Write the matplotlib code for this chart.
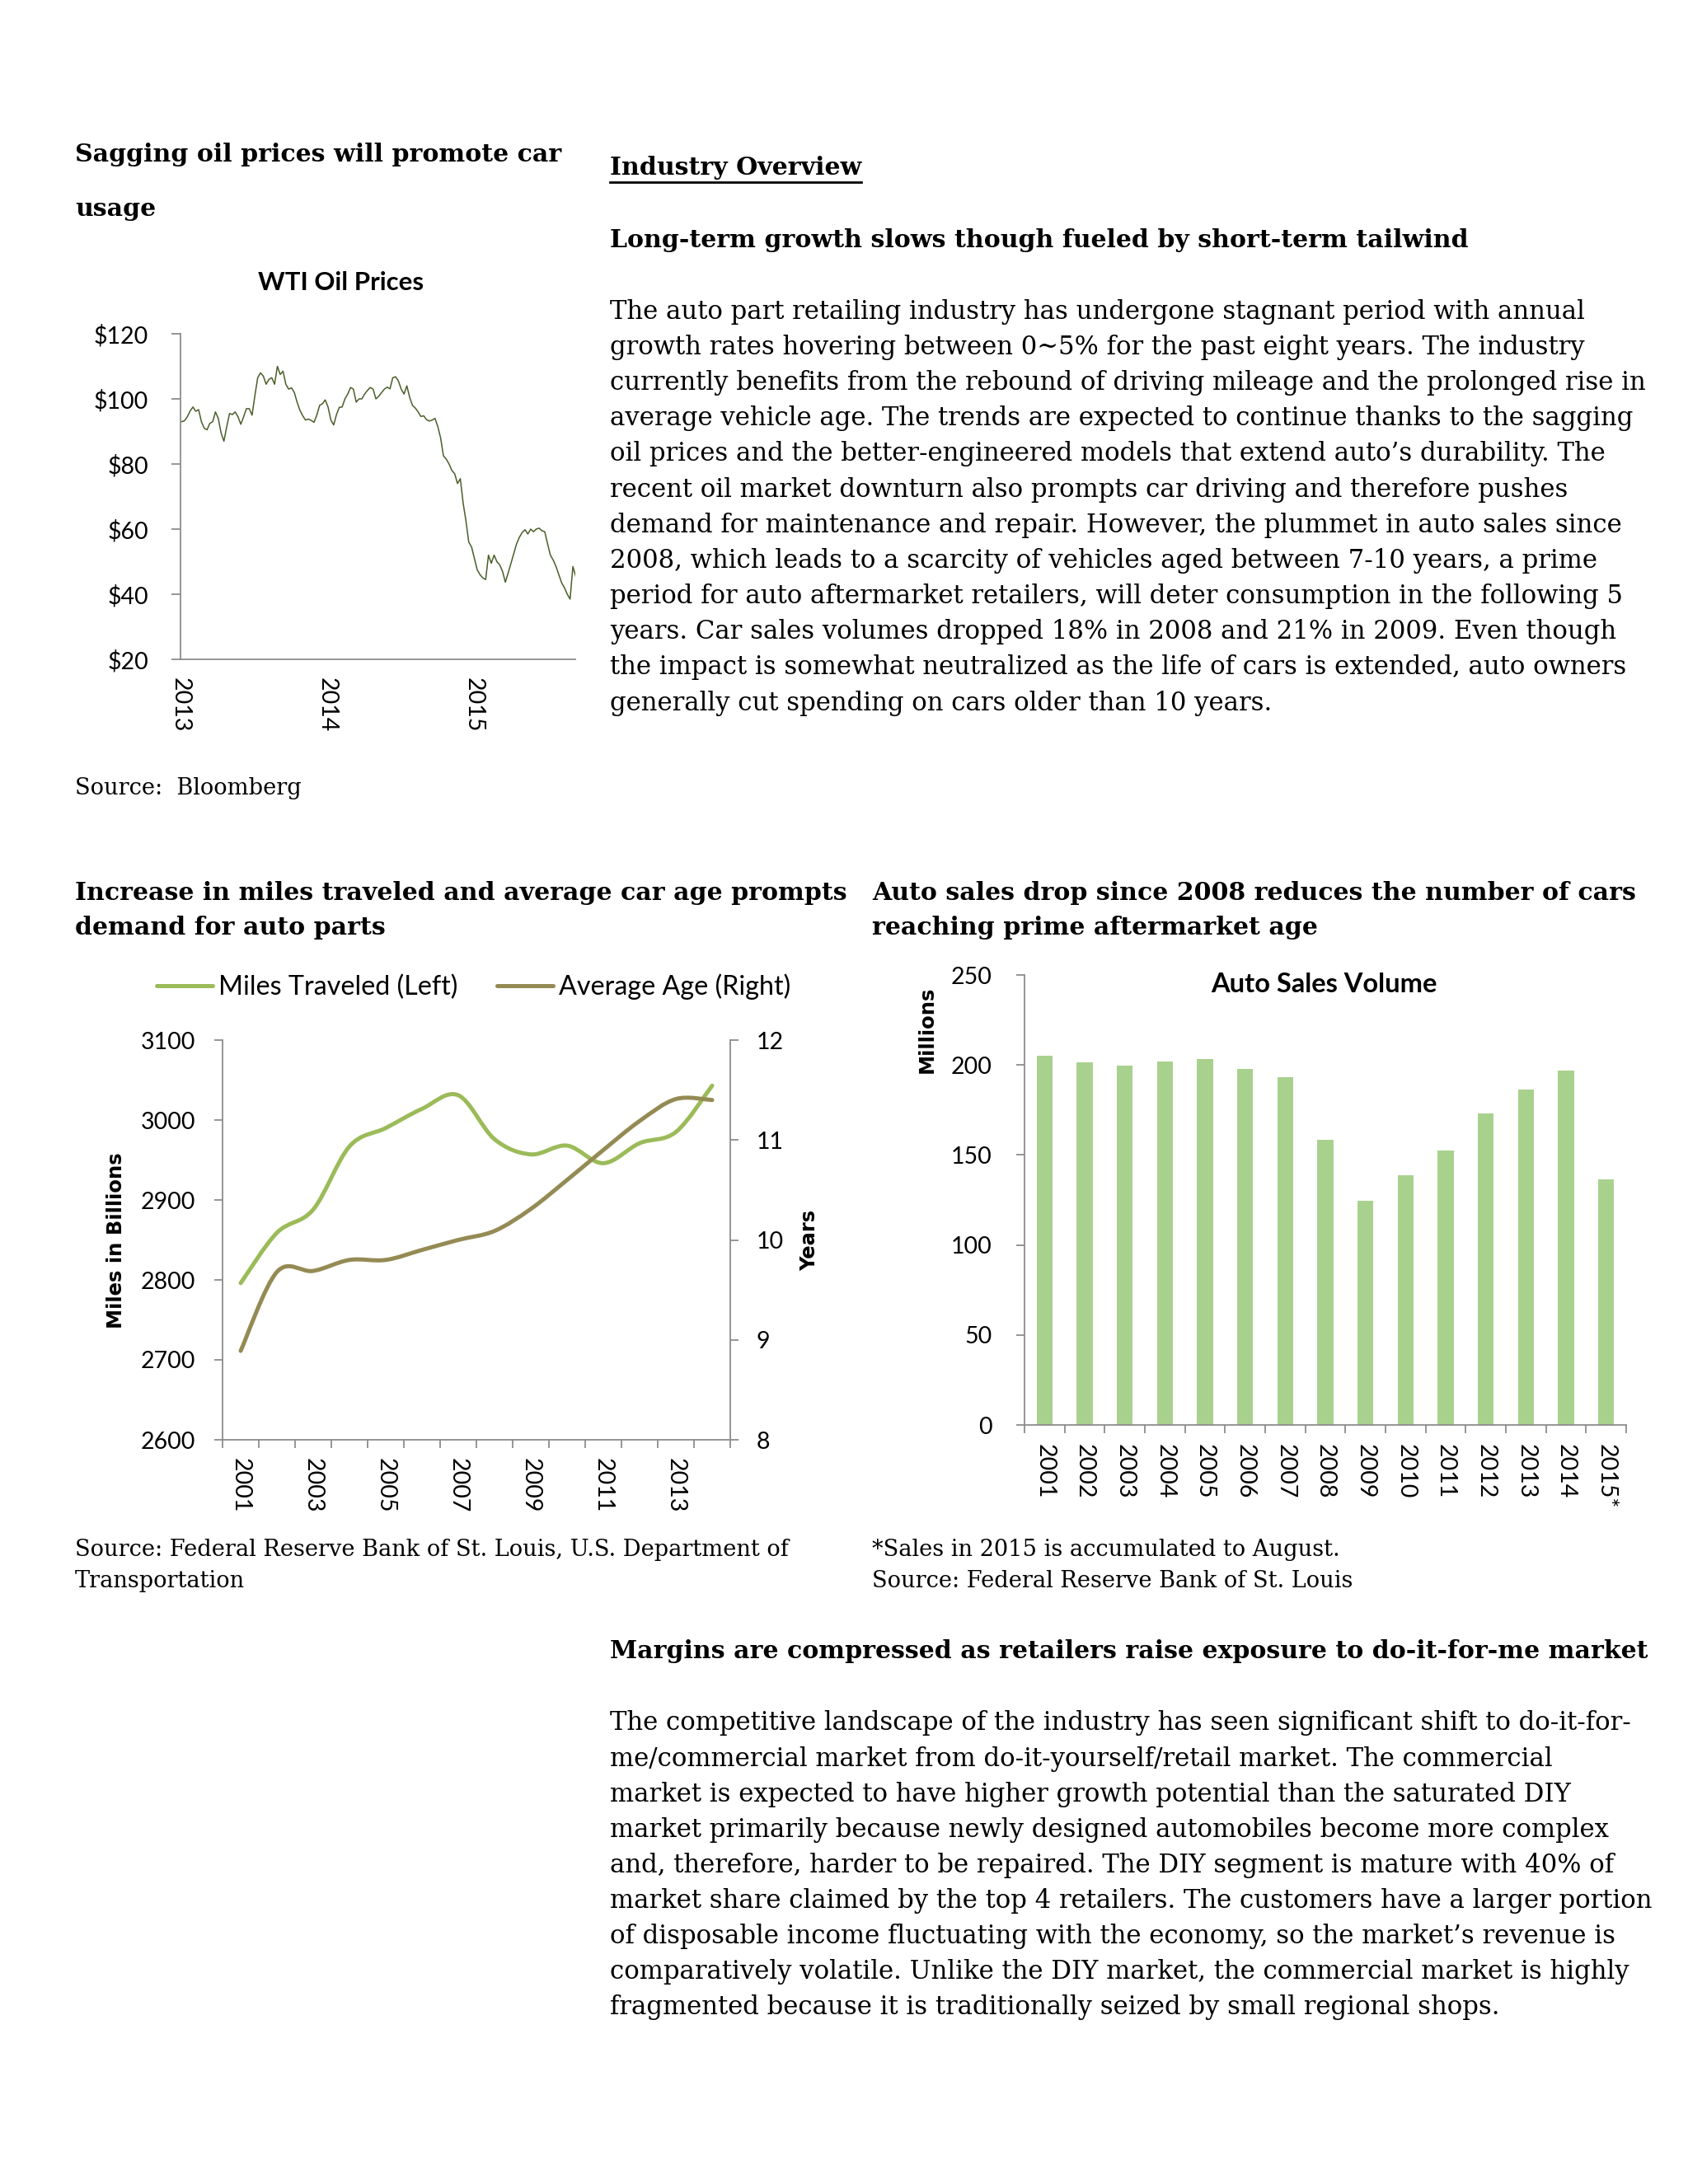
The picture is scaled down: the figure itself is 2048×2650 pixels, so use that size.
import numpy as np
import pandas as pd
import matplotlib
matplotlib.use('Agg')
import matplotlib.pyplot as plt
from matplotlib.path import Path
from matplotlib.patches import PathPatch
from matplotlib.lines import Line2D

# ---- data ----
# WTI weekly closes (Jan 2013 - Sep 2015)
wti_start = '2013-01-04'
wti_prices = [
    93, 93.3, 94.5, 96.3, 97.5, 96.2, 96.7, 93, 91, 90.5,
    92.5, 93, 96, 94, 89.5, 87, 91.5, 95.5, 95.2, 96,
    94.5, 92.2, 94.5, 97, 97, 95, 101, 106.5, 108, 107,
    104.5, 106, 106.5, 104.5, 110, 107.5, 108.5, 104.5, 103, 103.4,
    102, 99, 96.5, 94.8, 93.5, 93.8, 93.4, 92.8, 95, 98,
    98.5, 99.7, 97.5, 93.5, 92, 95.2, 97.4, 97.5, 100, 101.5,
    103.5, 103, 99, 100, 100, 101.5, 102.6, 103.5, 103, 100,
    100.8, 101.9, 103, 103.6, 103.1, 106.5, 106.8, 105.5, 103, 101.5,
    104, 100.5, 98, 97.2, 96, 94.6, 94.8, 93.6, 93.2, 93.5,
    94, 91.5, 88, 82.5, 81.5, 80, 78, 77, 74, 75.5,
    68, 62.5, 56, 54.5, 51, 47.5, 46, 45, 44.5, 52,
    49.5, 52, 50, 49, 47, 43.7, 46.5, 49.5, 52.5, 55.5,
    57.5, 59, 59.8, 58.5, 60, 59.2, 60, 60.3, 59.5, 59.2,
    55.5, 52, 50.5, 48.5, 46, 43.5, 42, 40, 38.5, 48.5,
    45.5, 44,
]
wti_years = ['2013', '2014', '2015']

mv_years = list(range(2001, 2015))
miles = [2796, 2859, 2888, 2967, 2990, 3014, 3031, 2976, 2957, 2968, 2946, 2971, 2985, 3043]
avg_age = [8.89, 9.68, 9.69, 9.80, 9.80, 9.90, 10.0, 10.09, 10.31, 10.60, 10.90, 11.19, 11.41, 11.40]

sales_labels = ['2001', '2002', '2003', '2004', '2005', '2006', '2007', '2008',
                '2009', '2010', '2011', '2012', '2013', '2014', '2015*']
sales = [205.3, 201.6, 199.6, 202.0, 203.3, 198.0, 193.0, 158.2,
         124.7, 138.6, 152.4, 173.0, 186.3, 197.0, 136.5]

para1 = [
    "The auto part retailing industry has undergone stagnant period with annual",
    "growth rates hovering between 0~5% for the past eight years. The industry",
    "currently benefits from the rebound of driving mileage and the prolonged rise in",
    "average vehicle age. The trends are expected to continue thanks to the sagging",
    "oil prices and the better-engineered models that extend auto\u2019s durability. The",
    "recent oil market downturn also prompts car driving and therefore pushes",
    "demand for maintenance and repair. However, the plummet in auto sales since",
    "2008, which leads to a scarcity of vehicles aged between 7-10 years, a prime",
    "period for auto aftermarket retailers, will deter consumption in the following 5",
    "years. Car sales volumes dropped 18% in 2008 and 21% in 2009. Even though",
    "the impact is somewhat neutralized as the life of cars is extended, auto owners",
    "generally cut spending on cars older than 10 years.",
]
para2 = [
    "The competitive landscape of the industry has seen significant shift to do-it-for-",
    "me/commercial market from do-it-yourself/retail market. The commercial",
    "market is expected to have higher growth potential than the saturated DIY",
    "market primarily because newly designed automobiles become more complex",
    "and, therefore, harder to be repaired. The DIY segment is mature with 40% of",
    "market share claimed by the top 4 retailers. The customers have a larger portion",
    "of disposable income fluctuating with the economy, so the market\u2019s revenue is",
    "comparatively volatile. Unlike the DIY market, the commercial market is highly",
    "fragmented because it is traditionally seized by small regional shops.",
]

# ---- page setup ----
W, H = 2048, 2650
fig = plt.figure(figsize=(W / 100, H / 100), dpi=100)
fig.patch.set_facecolor('white')
renderer = fig.canvas.get_renderer()

SERIF = ['DejaVu Serif']
CHART = ['Lato', 'DejaVu Sans']
BOLDSANS = ['DejaVu Sans']
GRAY = '#8C8C8C'
TICK = 20.5
LAB = 17.5


def fit_size(s, width, **kw):
    # font size that makes string s span `width` pixels
    t = fig.text(0, 0, s, fontsize=20, **kw)
    w = t.get_window_extent(renderer).width
    t.remove()
    return 20 * width / w


def axes_px(l, t, r, b):
    return fig.add_axes([l / W, 1 - b / H, (r - l) / W, (b - t) / H])


def txt(x, y, s, **kw):
    kw.setdefault('va', 'center')
    return fig.text(x / W, 1 - y / H, s, **kw)


def smooth(ax, x, y, **kw):
    # smoothed line like Excel's, built as cubic bezier segments
    x = np.asarray(x, float)
    y = np.asarray(y, float)
    px = np.concatenate([[x[0]], x, [x[-1]]])
    py = np.concatenate([[y[0]], y, [y[-1]]])
    verts = [(x[0], y[0])]
    codes = [Path.MOVETO]
    for i in range(len(x) - 1):
        c1 = (px[i + 1] + (px[i + 2] - px[i]) / 6, py[i + 1] + (py[i + 2] - py[i]) / 6)
        c2 = (px[i + 2] - (px[i + 3] - px[i + 1]) / 6, py[i + 2] - (py[i + 3] - py[i + 1]) / 6)
        verts += [c1, c2, (px[i + 2], py[i + 2])]
        codes += [Path.CURVE4] * 3
    ax.add_patch(PathPatch(Path(verts, codes), fill=False, capstyle='round',
                           joinstyle='round', **kw))


def style_spines(ax, keep):
    for side, sp in ax.spines.items():
        sp.set_visible(side in keep)
        sp.set_color(GRAY)
        sp.set_linewidth(1.3)


def tick_font(labels, size=TICK):
    for lab in labels:
        lab.set_family(CHART)
        lab.set_fontsize(size)


BODY = fit_size(para1[2], 1259, family=SERIF)
HEAD = fit_size("Long-term growth slows though fueled by short-term tailwind", 1040,
                family=SERIF, weight='bold')
SRC = fit_size("Source: Federal Reserve Bank of St. Louis, U.S. Department of", 868, family=SERIF)

# ---- text blocks ----
txt(91, 188, "Sagging oil prices will promote car", family=SERIF, fontsize=HEAD, weight='bold')
txt(91, 254, "usage", family=SERIF, fontsize=HEAD, weight='bold')

io = txt(740, 204, "Industry Overview", family=SERIF, fontsize=HEAD, weight='bold')
bb = io.get_window_extent(renderer)
fig.add_artist(Line2D([bb.x0 / W, bb.x1 / W], [1 - 221 / H] * 2, color='black', lw=2))

txt(740, 291, "Long-term growth slows though fueled by short-term tailwind",
    family=SERIF, fontsize=HEAD, weight='bold')
for i, line in enumerate(para1):
    txt(740, 378 + i * 43.2, line, family=SERIF, fontsize=BODY)

txt(91, 957, "Source:  Bloomberg", family=SERIF, fontsize=SRC)

txt(91, 1084, "Increase in miles traveled and average car age prompts", family=SERIF, fontsize=HEAD, weight='bold')
txt(91, 1126, "demand for auto parts", family=SERIF, fontsize=HEAD, weight='bold')
txt(1058, 1084, "Auto sales drop since 2008 reduces the number of cars", family=SERIF, fontsize=HEAD, weight='bold')
txt(1058, 1126, "reaching prime aftermarket age", family=SERIF, fontsize=HEAD, weight='bold')

txt(91, 1880, "Source: Federal Reserve Bank of St. Louis, U.S. Department of", family=SERIF, fontsize=SRC)
txt(91, 1919, "Transportation", family=SERIF, fontsize=SRC)
txt(1058, 1880, "*Sales in 2015 is accumulated to August.", family=SERIF, fontsize=SRC)
txt(1058, 1919, "Source: Federal Reserve Bank of St. Louis", family=SERIF, fontsize=SRC)

txt(740, 2003, "Margins are compressed as retailers raise exposure to do-it-for-me market",
    family=SERIF, fontsize=HEAD, weight='bold')
for i, line in enumerate(para2):
    txt(740, 2091 + i * 43.1, line, family=SERIF, fontsize=BODY)

# ---- WTI oil prices ----
ax1 = axes_px(219, 405, 698, 800)
dates = pd.date_range(wti_start, periods=len(wti_prices), freq='7D')
ax1.plot(dates, wti_prices, color='#4A5E2A', lw=1.1)
ax1.set_ylim(20, 120)
ax1.set_yticks(np.arange(20, 121, 20))
ax1.set_yticklabels(['$%d' % v for v in range(20, 121, 20)])
tick_font(ax1.get_yticklabels())
ax1.set_xlim(pd.Timestamp('2013-01-01'), pd.Timestamp('2015-09-10'))
ax1.set_xticks([pd.Timestamp(y + '-01-01') for y in wti_years])
ax1.set_xticklabels(wti_years, rotation=-90)
tick_font(ax1.get_xticklabels())
ax1.tick_params(axis='y', length=8, width=1.3, color=GRAY, pad=20)
ax1.tick_params(axis='x', length=0, pad=16)
style_spines(ax1, ['left', 'bottom'])
t = "WTI Oil Prices"
txt(414, 343, t, family=CHART, weight='bold', ha='center',
    fontsize=fit_size(t, 201, family=CHART, weight='bold'))

# ---- miles traveled / average age ----
ax2 = axes_px(270, 1262, 886, 1747)
ax3 = ax2.twinx()
green = '#9BBB59'
tan = '#948A54'
xs = np.arange(len(mv_years))
smooth(ax2, xs, miles, color=green, lw=3.6)
smooth(ax3, xs, avg_age, color=tan, lw=3.6)
ax2.set_xlim(-0.5, len(mv_years) - 0.5)
ax2.set_ylim(2600, 3100)
ax3.set_ylim(8, 12)
ax2.set_yticks(np.arange(2600, 3101, 100))
ax3.set_yticks(np.arange(8, 13, 1))
ax2.set_xticks(np.arange(-0.5, len(mv_years), 1))
ax2.set_xticklabels([])
ax2.set_xticks(xs[::2], minor=True)
ax2.set_xticklabels([str(y) for y in mv_years[::2]], minor=True, rotation=-90)
tick_font(ax2.get_xticklabels(minor=True))
tick_font(ax2.get_yticklabels())
tick_font(ax3.get_yticklabels())
ax2.tick_params(axis='x', which='major', length=7.5, width=1.3, color=GRAY)
ax2.tick_params(axis='x', which='minor', length=0, pad=16)
ax2.tick_params(axis='y', length=7.5, width=1.3, color=GRAY, pad=16)
ax3.tick_params(axis='y', length=7.5, width=1.3, color=GRAY, pad=15.5)
style_spines(ax2, ['left', 'bottom'])
style_spines(ax3, ['right'])
txt(141, 1505, "Miles in Billions", family=BOLDSANS, fontsize=LAB, weight='bold',
    ha='center', rotation=90)
txt(982, 1505, "Years", family=BOLDSANS, fontsize=LAB, weight='bold', ha='center', rotation=90)

leg_size = fit_size("Miles Traveled (Left)", 290, family=CHART)
em = leg_size * 100 / 72
handles = [Line2D([], [], color=green, lw=3.6, solid_capstyle='round'),
           Line2D([], [], color=tan, lw=3.6, solid_capstyle='round')]
ax2.legend(handles, ["Miles Traveled (Left)", "Average Age (Right)"], ncol=2,
           loc='center left', bbox_to_anchor=(190 / W, 1 - 1197 / H), bbox_transform=fig.transFigure,
           frameon=False, prop={'family': CHART, 'size': leg_size}, handlelength=68 / em,
           handletextpad=7 / em, columnspacing=48 / em, borderpad=0, borderaxespad=0)

# ---- auto sales volume ----
ax4 = axes_px(1243, 1183, 1973, 1729)
bx = np.arange(len(sales))
ax4.bar(bx, sales, width=0.4, color='#A9D18E')
ax4.set_xlim(-0.5, len(sales) - 0.5)
ax4.set_ylim(0, 250)
ax4.set_yticks(np.arange(0, 251, 50))
tick_font(ax4.get_yticklabels())
ax4.set_xticks(np.arange(-0.5, len(sales), 1))
ax4.set_xticklabels([])
ax4.set_xticks(bx, minor=True)
ax4.set_xticklabels(sales_labels, minor=True, rotation=-90)
tick_font(ax4.get_xticklabels(minor=True))
ax4.tick_params(axis='x', which='major', length=7.5, width=1.3, color=GRAY)
ax4.tick_params(axis='x', which='minor', length=0, pad=16.5)
ax4.tick_params(axis='y', length=7.5, width=1.3, color=GRAY, pad=21)
style_spines(ax4, ['left', 'bottom'])
t = "Auto Sales Volume"
txt(1606, 1194, t, family=CHART, weight='bold', ha='center',
    fontsize=fit_size(t, 274, family=CHART, weight='bold'))
txt(1125, 1249, "Millions", family=BOLDSANS, fontsize=LAB, weight='bold', ha='center', rotation=90)

fig.savefig('out.png', dpi=100, facecolor='white')
